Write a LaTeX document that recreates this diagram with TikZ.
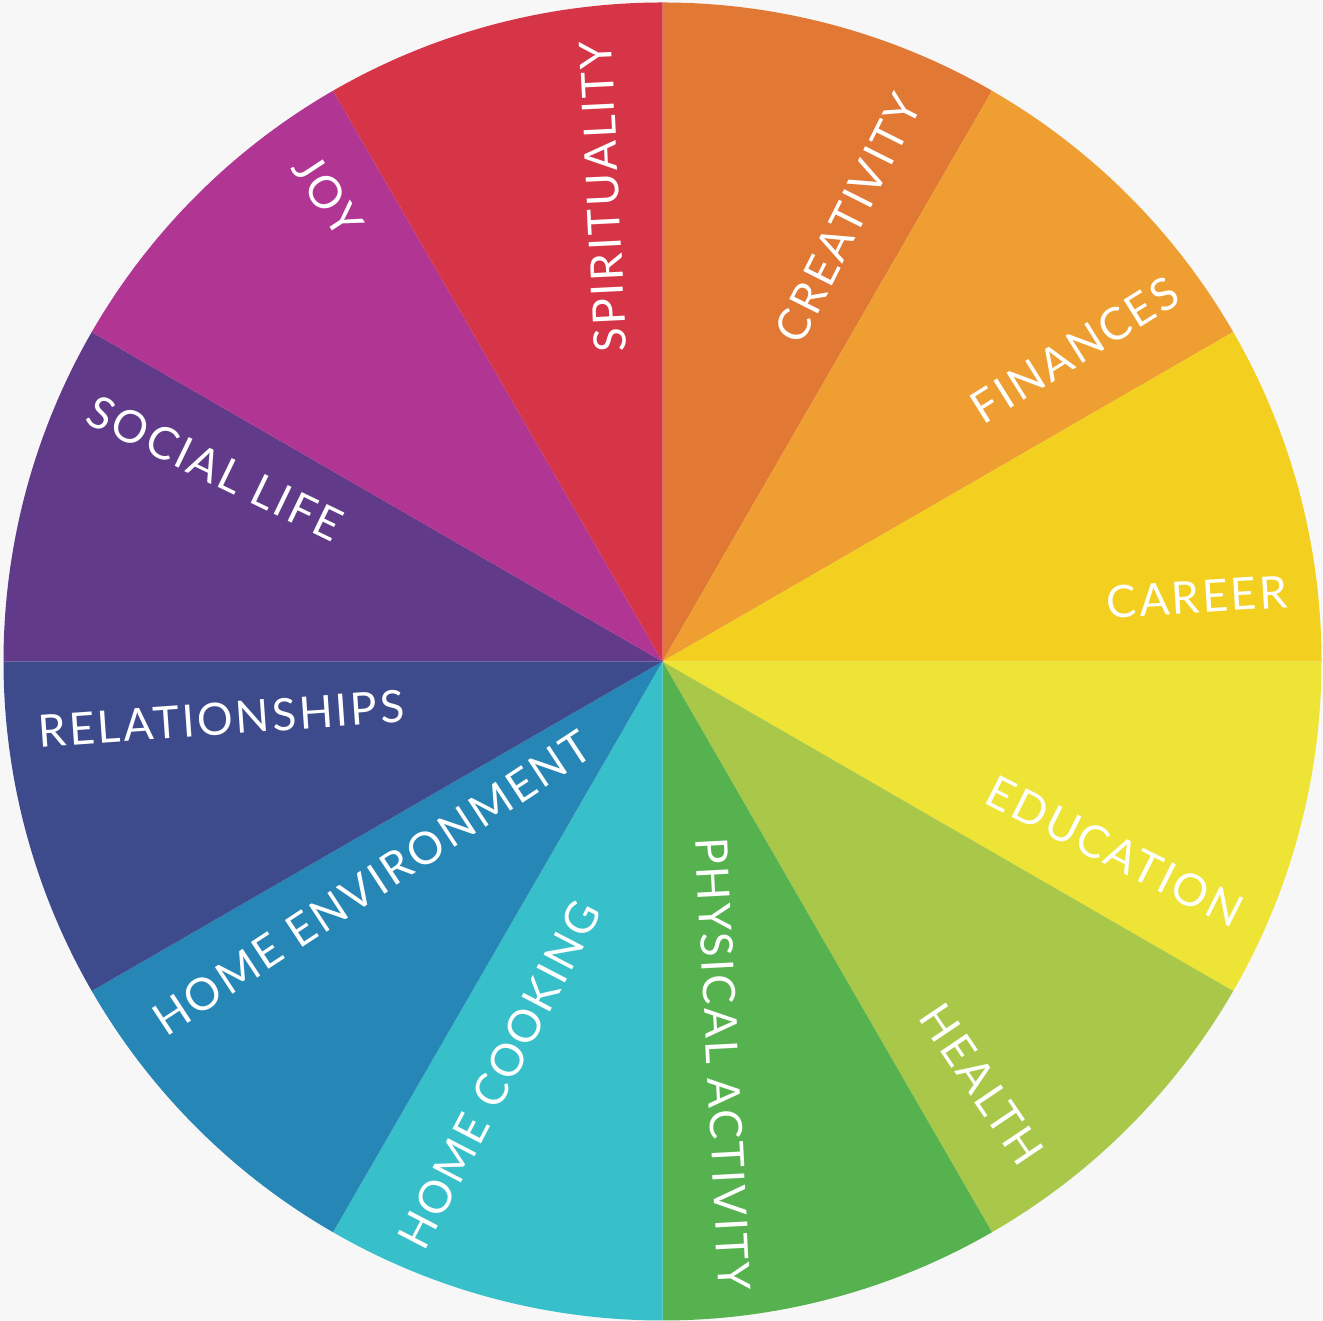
\documentclass[tikz,border=0pt]{standalone}
\usepackage{fontspec}
\setmainfont{Lato}[LetterSpace=6.0]
\definecolor{bgc}{HTML}{F7F7F7}
\definecolor{cCre}{HTML}{E17833}
\definecolor{cFin}{HTML}{EF9F31}
\definecolor{cCar}{HTML}{F3D01F}
\definecolor{cEdu}{HTML}{EDE435}
\definecolor{cHea}{HTML}{A9C84A}
\definecolor{cPhy}{HTML}{55B24F}
\definecolor{cCoo}{HTML}{37C0C9}
\definecolor{cEnv}{HTML}{2686B6}
\definecolor{cRel}{HTML}{3D4B8C}
\definecolor{cSoc}{HTML}{613B89}
\definecolor{cJoy}{HTML}{B13592}
\definecolor{cSpi}{HTML}{D63547}
\tikzset{lbl/.style={text=white, inner sep=0pt, font=\fontsize{12.7}{15}\selectfont}}
\begin{document}
\begin{tikzpicture}[x=0.1mm,y=0.1mm]
\fill[bgc] (0,0) rectangle (1323,1321);
\useasboundingbox (0,0) rectangle (1323,1321);
\coordinate (O) at (662.5,659.5);
\foreach \a/\c in {60/cCre,30/cFin,0/cCar,-30/cEdu,-60/cHea,-90/cPhy,-120/cCoo,-150/cEnv,-180/cRel,150/cSoc,120/cJoy,90/cSpi}
  \fill[\c] (O) -- ++(\a:659) arc[start angle=\a, end angle=\a+30, radius=659] -- cycle;
\node[lbl, rotate=63.4] (cre) at (848,1103) {CREATIVITY};
\node[lbl, rotate=32] (fin) at (1074.5,971) {FINANCES};
\node[lbl, rotate=3.5] (car) at (1197,724) {CAREER};
\node[lbl, rotate=-26.7] (edu) at (1115,469.5) {EDUCATION};
\node[lbl, rotate=-56] (hea) at (982,236.5) {HEALTH};
\node[lbl, rotate=-87] (phy) at (723,257) {PHYSICAL ACTIVITY};
\node[lbl, rotate=62.5] (coo) at (499.5,246) {HOME COOKING};
\node[lbl, rotate=33.3] (env) at (372,438) {HOME ENVIRONMENT};
\node[lbl, rotate=4] (rel) at (221.5,602) {RELATIONSHIPS};
\node[lbl, rotate=-25.8] (soc) at (215,853) {SOCIAL LIFE};
\node[lbl, rotate=-56.5] (joy) at (328,1125) {JOY};
\node[lbl, rotate=92.8] (spi) at (603,1124) {SPIRITUALITY};
\end{tikzpicture}
\end{document}
